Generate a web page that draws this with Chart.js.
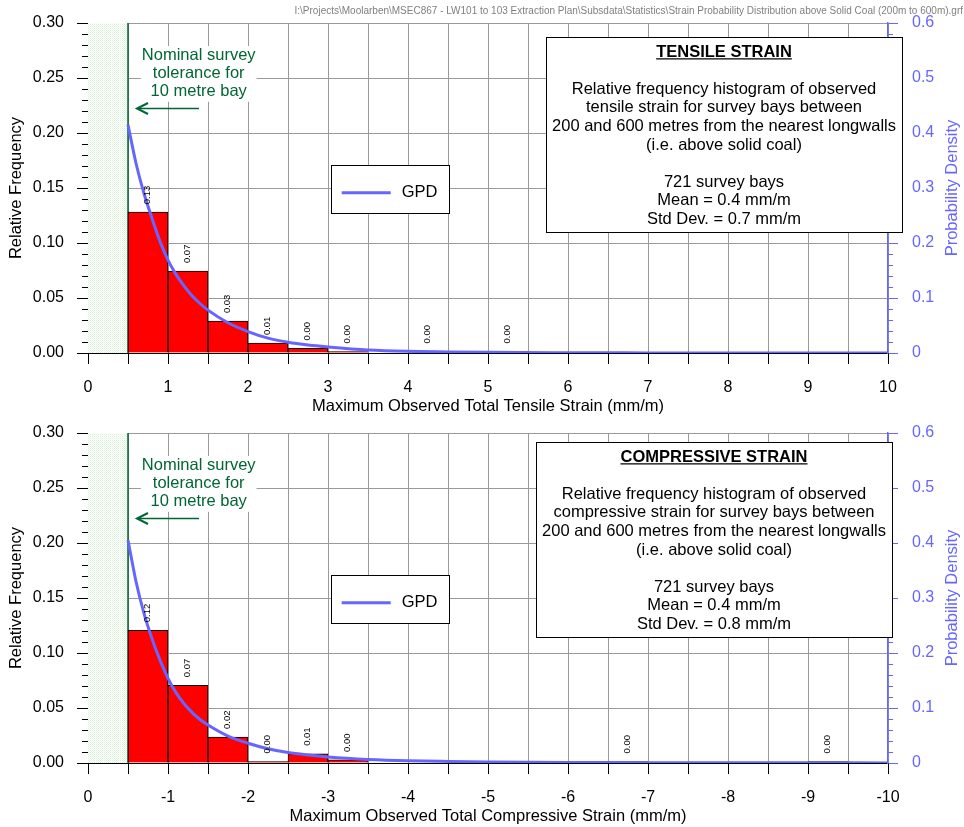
<!DOCTYPE html>
<html>
<head>
<meta charset="utf-8">
<script src="https://cdn.jsdelivr.net/npm/chart.js@4.4.1/dist/chart.umd.min.js"></script>
<style>
html,body{margin:0;padding:0;background:#fff;}
#wrap{position:relative;width:964px;height:827px;overflow:hidden;background:#fff;}
#c1{position:absolute;left:0;top:0;}
#c2{position:absolute;left:0;top:420px;}
#hdr{position:absolute;right:1px;top:5px;font:10px "Liberation Sans",Arial,sans-serif;color:#808080;white-space:nowrap;}
</style>
</head>
<body>
<div id="wrap">
<canvas id="c1" width="964" height="420" style="width:964px;height:420px"></canvas>
<canvas id="c2" width="964" height="407" style="width:964px;height:407px"></canvas>
<div id="hdr">I:\Projects\Moolarben\MSEC867 - LW101 to 103 Extraction Plan\Subsdata\Statistics\Strain Probability Distribution above Solid Coal (200m to 600m).grf</div>
</div>
<script>
// ---------------- DATA ----------------
const binCenters = [0.75,1.25,1.75,2.25,2.75,3.25,3.75,4.25,4.75,5.25,5.75,6.25,6.75,7.25,7.75,8.25,8.75,9.25,9.75];
const tensileFreq = [0.128,0.0745,0.029,0.009,0.0042,0.0014,null,0.0014,null,0.0014,null,null,null,null,null,null,null,null,null];
const compressiveFreq = [0.1207,0.0707,0.0236,0.0014,0.0083,0.0028,null,null,null,null,null,null,0.0014,null,null,null,null,0.0014,null];
const gpdX = [0.5,0.6,0.7,0.8,0.9,1.0,1.1,1.2,1.3,1.4,1.5,1.75,2.0,2.25,2.5,2.75,3.0,3.5,4.0,4.5,5.0,6.0,7.0,8.0,9.0,10.0];
const tensileGPD = [0.415,0.345,0.290,0.245,0.203,0.169,0.143,0.122,0.104,0.090,0.078,0.055,0.039,0.027,0.0195,0.0145,0.011,0.0055,0.003,0.002,0.0012,0.0005,0.0002,0.0001,0.0001,0];
const compressiveGPD = [0.405,0.330,0.272,0.226,0.187,0.154,0.128,0.108,0.092,0.079,0.069,0.049,0.036,0.026,0.019,0.0145,0.011,0.0065,0.004,0.0028,0.002,0.001,0.0006,0.0004,0.0003,0.0002];
const freqTicks = ['0.00','0.05','0.10','0.15','0.20','0.25','0.30'];
const densityTicks = ['0','0.1','0.2','0.3','0.4','0.5','0.6'];
const tensileTicks = ['0','1','2','3','4','5','6','7','8','9','10'];
const compressiveTicks = ['0','-1','-2','-3','-4','-5','-6','-7','-8','-9','-10'];
const toleranceLimit = 0.5;
const noteLines = ['Nominal survey','tolerance for','10 metre bay'];
const tensileBoxLines = ['Relative frequency histogram of observed','tensile strain for survey bays between','200 and 600 metres from the nearest longwalls','(i.e. above solid coal)','','721 survey bays','Mean = 0.4 mm/m','Std Dev. = 0.7 mm/m'];
const compressiveBoxLines = ['Relative frequency histogram of observed','compressive strain for survey bays between','200 and 600 metres from the nearest longwalls','(i.e. above solid coal)','','721 survey bays','Mean = 0.4 mm/m','Std Dev. = 0.8 mm/m'];

// ---------------- STYLE ----------------
const FONT = '"Liberation Sans", Arial, Helvetica, sans-serif';
const BLUE = 'rgb(102,102,255)';
const GRID = '#9a9a9a';
const GREEN = '#006633';

function hatchPattern(ctx){
  const p = document.createElement('canvas'); p.width = 2; p.height = 2;
  const c = p.getContext('2d');
  c.fillStyle = '#ffffff'; c.fillRect(0,0,2,2);
  c.fillStyle = '#d6f3d6'; c.fillRect(0,0,1,1);
  c.fillStyle = '#eefaee'; c.fillRect(1,1,1,1);
  return ctx.createPattern(p,'repeat');
}
function seg(ctx,x1,y1,x2,y2){ctx.beginPath();ctx.moveTo(x1,y1);ctx.lineTo(x2,y2);ctx.stroke();}

const decor = {
  id:'decor',
  beforeDatasetsDraw(chart, args, o){
    const {ctx, chartArea:a, scales:{x}} = chart;
    const x0 = x.getPixelForValue(0), x1 = x.getPixelForValue(toleranceLimit);
    ctx.save();
    ctx.fillStyle = hatchPattern(ctx);
    ctx.fillRect(x0, a.top, x1-x0, a.bottom-a.top);
    ctx.strokeStyle = GREEN; ctx.lineWidth = 1.5;
    seg(ctx, x1, a.top, x1, a.bottom);
    ctx.restore();
  },
  afterDatasetsDraw(chart){
    const {ctx} = chart;
    const ds = chart.data.datasets[0];
    const meta = chart.getDatasetMeta(0);
    ctx.save();
    ctx.fillStyle = '#000'; ctx.font = '9.5px ' + FONT;
    ctx.textAlign = 'left'; ctx.textBaseline = 'middle';
    meta.data.forEach((el,i)=>{
      const v = ds.data[i].y;
      ctx.save(); ctx.translate(el.x-1, el.y-8); ctx.rotate(-Math.PI/2);
      ctx.fillText(v.toFixed(2),0,0); ctx.restore();
    });
    ctx.restore();
  },
  afterDraw(chart, args, o){
    const {ctx, chartArea:a, scales:{y, y1}} = chart;
    ctx.save();
    // minor ticks
    ctx.lineWidth = 1; ctx.strokeStyle = '#000';
    for(let k=0;k<=30;k++){ if(k%5===0) continue; const py = Math.round(y.getPixelForValue(k/100))+0.5; seg(ctx, a.left-6, py, a.left, py); }
    ctx.strokeStyle = BLUE;
    for(let k=0;k<=30;k++){ if(k%5===0) continue; const py = Math.round(y1.getPixelForValue(k*0.02))+0.5; seg(ctx, a.right, py, a.right+5, py); }
    // note
    ctx.font = '16.5px ' + FONT;
    const cx = a.left + 110.7, ny = a.top + 32, lh = 18.4;
    const mw = Math.max(...noteLines.map(t=>ctx.measureText(t).width));
    ctx.fillStyle = '#fff';
    ctx.fillRect(cx - mw/2 - 1, ny - 9, mw + 2, (noteLines.length-1)*lh + 19);
    ctx.fillStyle = GREEN; ctx.textAlign = 'center'; ctx.textBaseline = 'middle';
    noteLines.forEach((t,i)=>ctx.fillText(t, cx, ny + i*lh));
    const ay = Math.round(a.top + 85.3) + 0.5, tip = a.left + 49, tail = a.left + 111;
    ctx.strokeStyle = GREEN; ctx.lineWidth = 1.3; seg(ctx, tail, ay, tip+1, ay);
    ctx.lineWidth = 2; ctx.beginPath(); ctx.moveTo(tip+11, ay-5.5); ctx.lineTo(tip, ay); ctx.lineTo(tip+11, ay+5.5); ctx.stroke();
    // legend
    const lx = a.left + 243, ly = a.top + 142.3;
    ctx.fillStyle = '#fff'; ctx.fillRect(lx, ly, 118, 48.7);
    ctx.strokeStyle = '#000'; ctx.lineWidth = 1; ctx.strokeRect(Math.round(lx)+0.5, Math.round(ly)+0.5, 118, 48);
    const lineDs = chart.data.datasets[1];
    ctx.strokeStyle = lineDs.borderColor; ctx.lineWidth = 3; seg(ctx, lx+10.7, ly+27.4, lx+59.7, ly+27.4);
    ctx.fillStyle = '#000'; ctx.textAlign = 'left'; ctx.font = '16.5px ' + FONT;
    ctx.fillText(lineDs.label, lx + 70.7, ly + 27.4);
    // info box
    const bx = a.left + o.box.dx, by = a.top + o.box.dy, bw = 356, bh = 195;
    ctx.fillStyle = '#fff'; ctx.fillRect(bx, by, bw, bh);
    ctx.strokeStyle = '#000'; ctx.lineWidth = 1; ctx.strokeRect(Math.round(bx)+0.5, Math.round(by)+0.5, bw, bh);
    const bcx = bx + bw/2;
    ctx.fillStyle = '#000'; ctx.textAlign = 'center';
    ctx.font = 'bold 16.5px ' + FONT; ctx.textBaseline = 'alphabetic';
    const tw = ctx.measureText(o.box.title).width;
    ctx.fillText(o.box.title, bcx, by + 19.5);
    ctx.lineWidth = 1.3; seg(ctx, bcx - tw/2, by + 21.8, bcx + tw/2, by + 21.8);
    ctx.font = '16.5px ' + FONT; ctx.textBaseline = 'middle';
    o.box.lines.forEach((t,i)=>ctx.fillText(t, bcx, by + 52.3 + i*18.6));
    // right axis title
    ctx.save();
    ctx.translate(a.right + 64, (a.top + a.bottom)/2);
    ctx.rotate(-Math.PI/2);
    ctx.fillStyle = BLUE; ctx.font = '16.5px ' + FONT; ctx.textAlign = 'center'; ctx.textBaseline = 'middle';
    ctx.fillText('Probability Density', 0, 0);
    ctx.restore();
    ctx.restore();
  }
};

function makeChart(id, cfg){
  const canvas = document.getElementById(id);
  const H = canvas.height;
  const noPad = (s)=>{ s.paddingTop = 0; s.paddingBottom = 0; s.paddingLeft = 0; s.paddingRight = 0; };
  return new Chart(canvas, {
    type:'bar',
    data:{datasets:[
      {type:'bar', label:'Relative frequency',
       data: binCenters.map((c,i)=>({x:c, y:cfg.freq[i]})).filter(p=>p.y!==null),
       backgroundColor:'#ff0000', borderColor:'#000', borderWidth:1,
       barPercentage:1, categoryPercentage:1, order:1, xAxisID:'x', yAxisID:'y'},
      {type:'line', label:'GPD', data: gpdX.map((v,i)=>({x:v, y:cfg.gpd[i]})),
       borderColor:BLUE, borderWidth:3, pointRadius:0, fill:false,
       cubicInterpolationMode:'monotone', order:0, xAxisID:'x', yAxisID:'y1'}
    ]},
    options:{
      responsive:false, animation:false, events:[],
      layout:{padding:{top:cfg.top, left:0, right:0, bottom:0}},
      plugins:{legend:{display:false}, tooltip:{enabled:false}, decor:{box:cfg.box}},
      scales:{
        x:{type:'linear', position:'bottom', min:0, max:10, offset:false,
           ticks:{stepSize:0.5, autoSkip:false, maxRotation:0, padding:14, color:'#000',
                  font:{family:FONT, size:16},
                  callback:(v)=> Number.isInteger(v) ? cfg.xTicks[v] : ''},
           grid:{color:GRID, lineWidth:1, tickLength:11, tickColor:'#000', offset:false},
           border:{display:true, color:'#000', width:1},
           title:{display:true, text:cfg.xTitle, color:'#000', font:{family:FONT, size:16.5}, padding:{top:0, bottom:cfg.xTitlePad}},
           afterFit:(s)=>{ s.height = H - cfg.bottom; noPad(s); }},
        y:{type:'linear', position:'left', min:0, max:0.3,
           ticks:{stepSize:0.05, padding:13, color:'#000', font:{family:FONT, size:16},
                  callback:(v)=> freqTicks[Math.round(v/0.05)]},
           grid:{color:GRID, lineWidth:1, tickLength:11, tickColor:'#000'},
           border:{display:false},
           title:{display:true, text:'Relative Frequency', color:'#000', font:{family:FONT, size:16.5}, padding:{top:7, bottom:0}},
           afterFit:(s)=>{ s.width = 88; noPad(s); }},
        y1:{type:'linear', position:'right', min:0, max:0.6,
           ticks:{stepSize:0.1, padding:14, color:BLUE, font:{family:FONT, size:16},
                  callback:(v)=> densityTicks[Math.round(v/0.1)]},
           grid:{drawOnChartArea:false, tickLength:10, tickColor:BLUE, color:BLUE},
           border:{display:true, color:BLUE, width:1.5},
           afterFit:(s)=>{ s.width = 964 - 888; noPad(s); }}
      }
    },
    plugins:[decor]
  });
}

makeChart('c1', {freq:tensileFreq, gpd:tensileGPD, xTicks:tensileTicks,
  xTitle:'Maximum Observed Total Tensile Strain (mm/m)', top:23, bottom:353, xTitlePad:4,
  box:{dx:458, dy:14, title:'TENSILE STRAIN', lines:tensileBoxLines}});
makeChart('c2', {freq:compressiveFreq, gpd:compressiveGPD, xTicks:compressiveTicks,
  xTitle:'Maximum Observed Total Compressive Strain (mm/m)', top:13, bottom:343, xTitlePad:1,
  box:{dx:448, dy:9, title:'COMPRESSIVE STRAIN', lines:compressiveBoxLines}});
</script>
</body>
</html>
